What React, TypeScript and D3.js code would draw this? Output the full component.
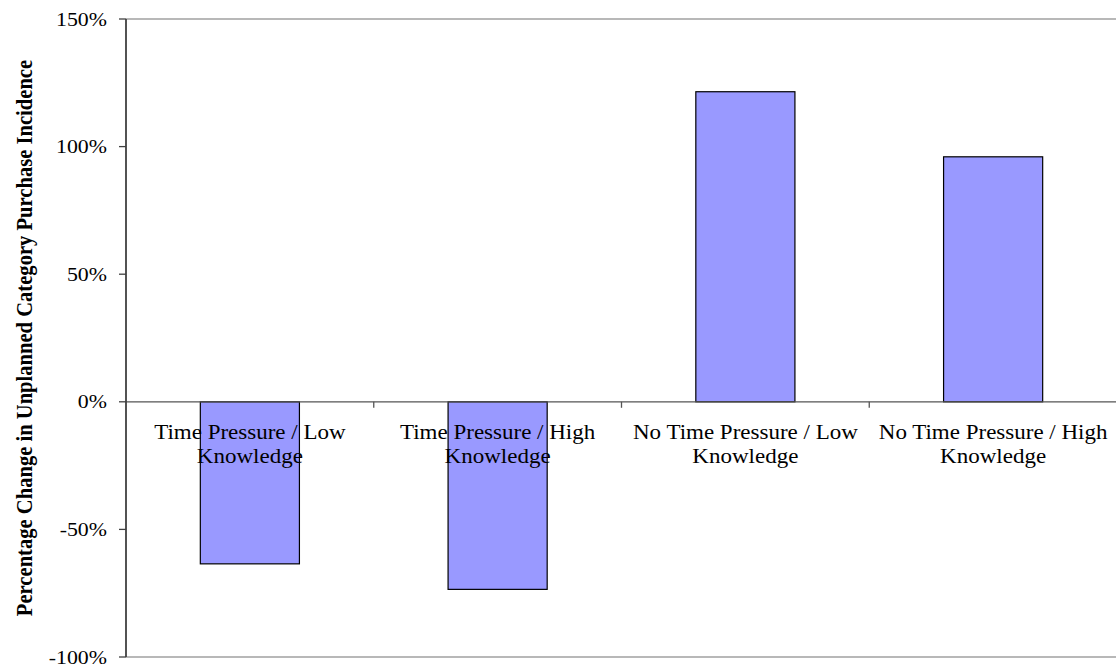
import React from "react";
import * as d3 from "d3";

const categories = [
  "Time Pressure / Low Knowledge",
  "Time Pressure / High Knowledge",
  "No Time Pressure / Low Knowledge",
  "No Time Pressure / High Knowledge",
];
const labelLines = [
  ["Time Pressure / Low", "Knowledge"],
  ["Time Pressure / High", "Knowledge"],
  ["No Time Pressure / Low", "Knowledge"],
  ["No Time Pressure / High", "Knowledge"],
];
const values = [-0.635, -0.735, 1.215, 0.96];
const yTicks = [-1, -0.5, 0, 0.5, 1, 1.5];
const yTitle = "Percentage Change in Unplanned Category Purchase Incidence";

const W = 1116;
const H = 669;
const SX = 1.15;
const FONT = "'Liberation Serif', 'Times New Roman', Times, serif";
const fmt = (t: number) => d3.format(".0%")(t).replace("\u2212", "-");

export default function App() {
  const x = d3
    .scaleBand<string>()
    .domain(categories)
    .range([126, 1117])
    .paddingInner(0.6)
    .paddingOuter(0.3);
  const y = d3.scaleLinear().domain([-1, 1.5]).range([657, 19]);
  const step = x.step();
  const x0 = 126;
  const y0 = y(0);
  const boundaries = d3.range(1, categories.length).map((i) => x0 + i * step);

  return (
    <svg
      width={W}
      height={H}
      style={{ position: "absolute", left: 0, top: 0, background: "#fff" }}
      fontFamily={FONT}
    >
      {/* top and bottom plot borders */}
      <line x1={126} x2={W} y1={y(1.5)} y2={y(1.5)} stroke="#a0a0a0" strokeWidth={1.5} />
      <line x1={126} x2={W} y1={y(-1)} y2={y(-1)} stroke="#a0a0a0" strokeWidth={1.5} />

      {/* bars */}
      {values.map((v, i) => {
        const c = categories[i];
        const top = y(Math.max(0, v));
        const bot = y(Math.min(0, v));
        return (
          <rect
            key={c}
            x={x(c)}
            y={top}
            width={x.bandwidth()}
            height={bot - top}
            fill="#9999FF"
            stroke="#000"
            strokeWidth={1.2}
          />
        );
      })}

      {/* zero axis */}
      <line x1={126} x2={W} y1={y0} y2={y0} stroke="#555" strokeWidth={1.3} />
      {boundaries.map((bx, i) => (
        <line key={i} x1={bx} x2={bx} y1={y0} y2={y0 + 6} stroke="#555" strokeWidth={1.3} />
      ))}

      {/* y axis */}
      <line x1={126} x2={126} y1={y(1.5)} y2={y(-1)} stroke="#404040" strokeWidth={1.8} />
      {yTicks.map((t) => (
        <g key={t}>
          <line x1={119} x2={126} y1={y(t)} y2={y(t)} stroke="#404040" strokeWidth={1.3} />
          <text
            transform={`translate(107,${y(t) + 6.5}) scale(${SX},1)`}
            textAnchor="end"
            fontSize={19}
            fill="#000"
          >
            {fmt(t)}
          </text>
        </g>
      ))}

      {/* category labels */}
      {categories.map((c, i) => {
        const cx = (x(c) as number) + x.bandwidth() / 2;
        return (
          <g key={c}>
            {labelLines[i].map((ln, j) => (
              <text
                key={j}
                transform={`translate(${cx},${439 + j * 24}) scale(${SX},1)`}
                textAnchor="middle"
                fontSize={20}
                fill="#000"
              >
                {ln}
              </text>
            ))}
          </g>
        );
      })}

      {/* y title */}
      <text
        transform={`translate(32,${338}) scale(${SX},1) rotate(-90)`}
        textAnchor="middle"
        fontSize={20.6}
        fontWeight="bold"
        fill="#000"
      >
        {yTitle}
      </text>
    </svg>
  );
}
